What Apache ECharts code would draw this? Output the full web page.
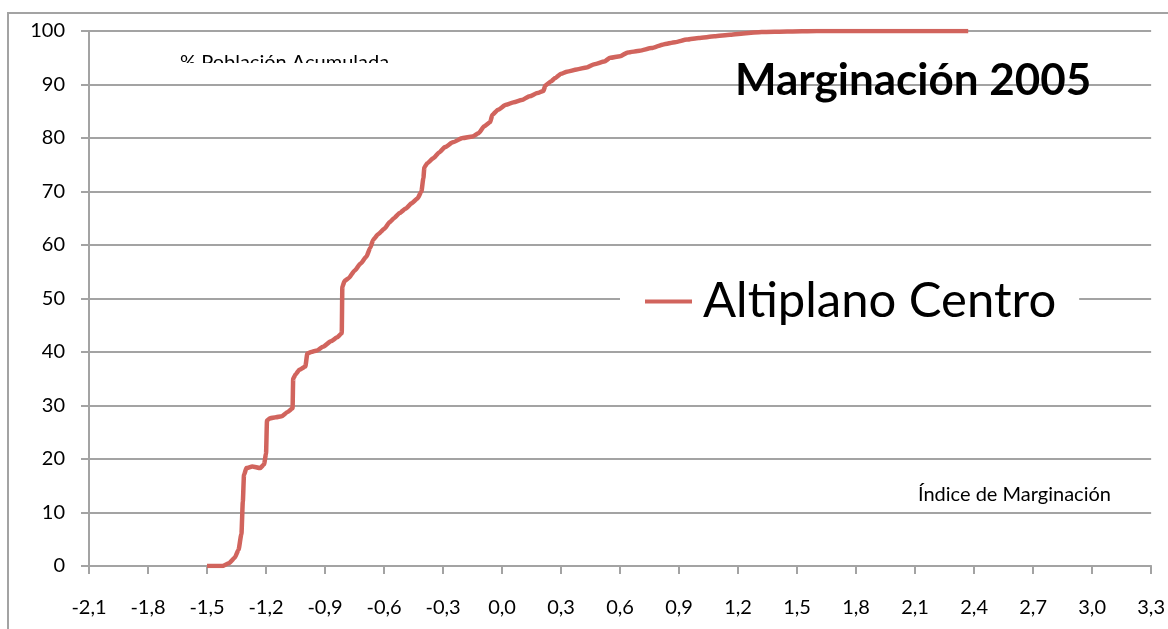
<!DOCTYPE html>
<html>
<head>
<meta charset="utf-8">
<script src="https://cdn.jsdelivr.net/npm/echarts@6/dist/echarts.min.js"></script>
<style>
  html, body { margin: 0; padding: 0; background: #fff; }
  #mChart { width: 1168px; height: 629px; }
</style>
</head>
<body>
<div id="mChart"></div>
<script>
// indice de marginacion (eje x)
var indice = [-1.50, -1.45, -1.42, -1.39, -1.36, -1.34, -1.325, -1.318, -1.312, -1.30,
  -1.27, -1.23, -1.21, -1.20, -1.195, -1.18, -1.15, -1.12, -1.09, -1.065,
  -1.062, -1.05, -1.03, -1.00, -0.99, -0.97, -0.94, -0.91, -0.87, -0.84,
  -0.815, -0.812, -0.80, -0.78, -0.75, -0.72, -0.69, -0.67, -0.655, -0.63,
  -0.60, -0.57, -0.55, -0.52, -0.49, -0.46, -0.43, -0.41, -0.40, -0.395,
  -0.38, -0.35, -0.32, -0.29, -0.25, -0.20, -0.15, -0.12, -0.09, -0.06,
  -0.05, -0.02, 0.02, 0.06, 0.10, 0.14, 0.18, 0.21, 0.22, 0.25,
  0.27, 0.30, 0.33, 0.38, 0.43, 0.47, 0.52, 0.55, 0.60, 0.64,
  0.70, 0.76, 0.82, 0.88, 0.94, 1.00, 1.08, 1.16, 1.24, 1.32,
  1.45, 1.60, 2.37];
// % poblacion acumulada (eje y)
var poblacion = [0.0, 0.0, 0.0, 0.5, 1.5, 3.0, 6.0, 12.0, 17.0, 18.3,
  18.6, 18.3, 19.0, 21.0, 27.2, 27.6, 27.8, 28.0, 28.8, 29.5,
  35.0, 35.8, 36.7, 37.3, 39.7, 40.0, 40.3, 41.0, 42.0, 42.7,
  43.5, 52.2, 53.3, 53.8, 55.2, 56.5, 57.8, 59.5, 61.0, 62.0,
  63.0, 64.3, 65.0, 66.0, 66.8, 67.8, 68.7, 70.0, 72.5, 74.5,
  75.3, 76.2, 77.3, 78.3, 79.2, 80.0, 80.3, 80.9, 82.2, 83.0,
  84.3, 85.3, 86.2, 86.7, 87.1, 87.8, 88.4, 88.8, 89.8, 90.6,
  91.2, 92.0, 92.4, 92.8, 93.2, 93.8, 94.3, 95.0, 95.3, 96.0,
  96.3, 96.8, 97.5, 97.9, 98.4, 98.7, 99.0, 99.3, 99.6, 99.8,
  99.9, 100, 100];

var serieNombre = "Altiplano Centro";
var titulo = "Marginación 2005";
var tituloX = "Índice de Marginación";
var tituloY = "% Población Acumulada";

var datos = [];
for (var i = 0; i < indice.length; i++) {
  datos.push([indice[i], poblacion[i]]);
}

var gris = "#a3a3a3";
var fuente = "Lato";

var myChart = echarts.init(document.getElementById("mChart"));
myChart.setOption({
  animation: false,
  backgroundColor: "#fff",
  textStyle: { fontFamily: fuente },
  grid: { left: 89, right: 16, top: 31, bottom: 63 },
  legend: {
    data: [serieNombre],
    left: 620,
    top: 275,
    backgroundColor: "#fff",
    padding: [2, 23, 2, 25],
    icon: "rect",
    itemWidth: 47,
    itemHeight: 4,
    itemGap: 0,
    textStyle: { fontSize: 49, color: "#000", fontFamily: fuente, padding: [0, 0, 0, 6] }
  },
  xAxis: {
    type: "value",
    min: -2.1,
    max: 3.3,
    interval: 0.3,
    axisLine: { onZero: false, lineStyle: { color: gris, width: 2 } },
    axisTick: { show: true, length: 8, lineStyle: { color: gris, width: 2 } },
    splitLine: { show: false },
    axisLabel: {
      fontSize: 20,
      color: "#000",
      margin: 32,
      formatter: function (v) { return v.toFixed(1).replace(".", ","); }
    }
  },
  yAxis: {
    type: "value",
    min: 0,
    max: 100,
    interval: 10,
    axisLine: { show: true, onZero: false, lineStyle: { color: gris, width: 2 } },
    axisTick: { show: true, length: 8, lineStyle: { color: gris, width: 2 } },
    splitLine: { lineStyle: { color: gris, width: 2 } },
    axisLabel: { fontSize: 20, color: "#000", margin: 24 }
  },
  graphic: [
    {
      type: "rect",
      shape: { x: 8, y: 13, width: 1180, height: 700 },
      style: { fill: null, stroke: gris, lineWidth: 2 },
      z: 1
    },
    {
      type: "text",
      left: 180,
      top: 53,
      style: { text: tituloY, fontSize: 20, fontFamily: fuente, fill: "#000" },
      z: 10
    },
    {
      // la etiqueta original aparece cortada por abajo
      type: "rect",
      shape: { x: 170, y: 63, width: 260, height: 16 },
      style: { fill: "#fff" },
      z: 11
    },
    {
      type: "text",
      left: 735,
      top: 59,
      style: { text: titulo, fontSize: 44, fontWeight: "bold", fontFamily: fuente, fill: "#000" },
      z: 10
    },
    {
      type: "text",
      left: 918,
      top: 485,
      style: { text: tituloX, fontSize: 20, fontFamily: fuente, fill: "#000" },
      z: 10
    }
  ],
  series: [
    {
      name: serieNombre,
      type: "line",
      data: datos,
      smooth: 0.2,
      smoothMonotone: "x",
      showSymbol: false,
      symbol: "none",
      color: "#d1645d",
      lineStyle: { color: "#d1645d", width: 4.5 }
    }
  ]
});
</script>
</body>
</html>
